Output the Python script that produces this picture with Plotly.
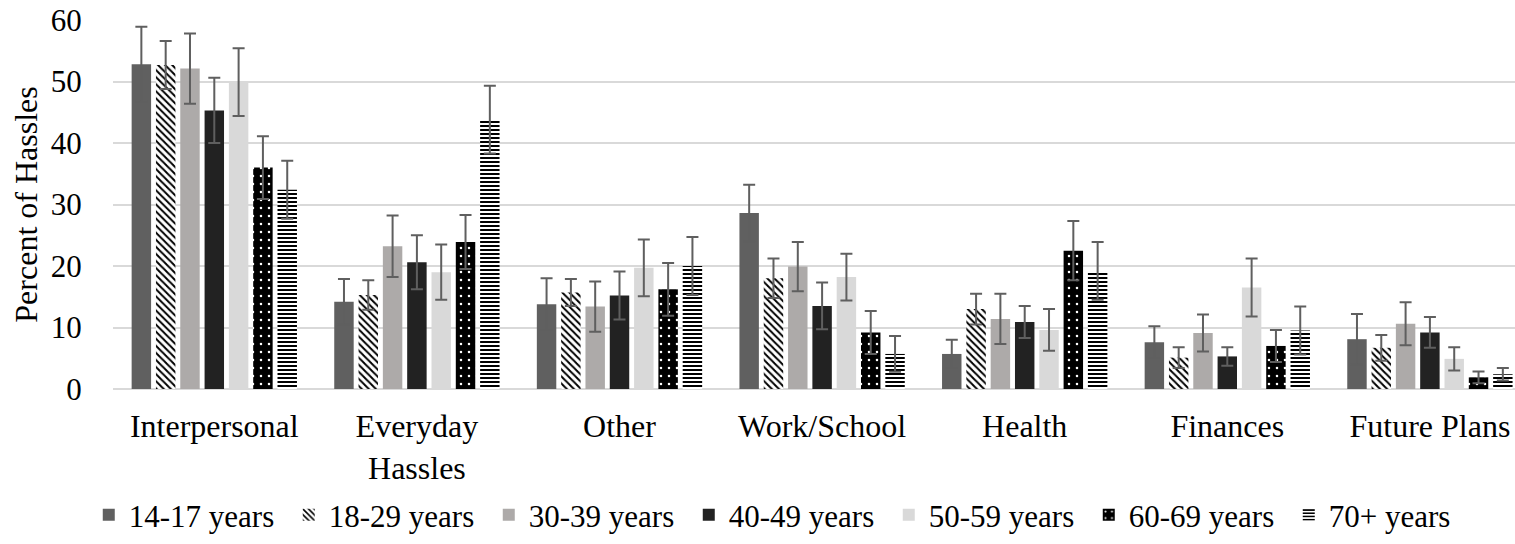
import plotly.graph_objects as go

categories = ["Interpersonal", "Everyday<br>Hassles", "Other", "Work/School", "Health", "Finances", "Future Plans"]
series_names = ["14-17 years", "18-29 years", "30-39 years", "40-49 years", "50-59 years", "60-69 years", "70+ years"]

v_14_17 = [52.8, 14.2, 13.8, 28.6, 5.7, 7.6, 8.1]
v_18_29 = [52.7, 15.3, 15.7, 18.0, 13.0, 5.1, 6.7]
v_30_39 = [52.1, 23.2, 13.4, 19.9, 11.4, 9.1, 10.6]
v_40_49 = [45.3, 20.6, 15.2, 13.5, 10.9, 5.3, 9.2]
v_50_59 = [49.9, 19.0, 19.7, 18.2, 9.6, 16.5, 4.9]
v_60_69 = [36.0, 23.9, 16.2, 9.2, 22.5, 7.0, 1.9]
v_70p = [32.4, 43.8, 20.0, 5.7, 19.2, 9.5, 2.4]

e_14_17 = [6.1, 3.7, 4.2, 4.6, 2.3, 2.6, 4.1]
e_18_29 = [3.9, 2.4, 2.2, 3.2, 2.5, 1.7, 2.1]
e_30_39 = [5.7, 5.0, 4.1, 4.0, 4.1, 3.0, 3.5]
e_40_49 = [5.3, 4.4, 3.9, 3.8, 2.6, 1.5, 2.5]
e_50_59 = [5.5, 4.5, 4.6, 3.8, 3.4, 4.7, 1.9]
e_60_69 = [5.1, 4.4, 4.3, 3.5, 4.8, 2.6, 0.95]
e_70p = [4.7, 5.5, 4.7, 2.9, 4.7, 3.9, 1.0]

values = [v_14_17, v_18_29, v_30_39, v_40_49, v_50_59, v_60_69, v_70p]
errors = [e_14_17, e_18_29, e_30_39, e_40_49, e_50_59, e_60_69, e_70p]

styles = [
    dict(color="#606060"),
    dict(color="white", pattern=dict(shape="\\", fgcolor="black", bgcolor="white", size=5, solidity=0.4, fillmode="replace")),
    dict(color="#ADAAA9"),
    dict(color="#222222"),
    dict(color="#D9D9D9"),
    dict(color="black", pattern=dict(shape=".", fgcolor="white", bgcolor="black", size=8, solidity=0.08, fillmode="replace")),
    dict(color="white", pattern=dict(shape="-", fgcolor="black", bgcolor="white", size=4, solidity=0.5, fillmode="replace")),
]

FONT = "Liberation Serif, Times New Roman, serif"

fig = go.Figure()
for name, vals, errs, st in zip(series_names, values, errors, styles):
    fig.add_trace(go.Bar(
        name=name, x=categories, y=vals,
        marker=dict(line=dict(width=0), **st),
        error_y=dict(type="data", array=errs, visible=True, color="#5f5f5f", thickness=2, width=6),
    ))

fig.update_layout(
    width=1515, height=544,
    margin=dict(l=113, r=0, t=20, b=155),
    paper_bgcolor="white", plot_bgcolor="white",
    barmode="group", bargap=0.16, bargroupgap=0.2,
    font=dict(family=FONT, size=31, color="black"),
    showlegend=True,
    legend=dict(orientation="h", x=0.482, xanchor="center", y=-0.342, yanchor="middle",
                font=dict(family=FONT, size=31, color="black"), traceorder="normal",
                itemwidth=30, entrywidth=155, entrywidthmode="pixels", bgcolor="rgba(0,0,0,0)"),
    xaxis=dict(range=[-0.5, 6.42], showgrid=False, showline=False, zeroline=False, automargin=False,
               ticks="outside", ticklen=9, tickcolor="rgba(0,0,0,0)",
               tickfont=dict(family=FONT, size=32, color="black")),
    yaxis=dict(range=[0, 60], dtick=10, showgrid=True, gridcolor="#D9D9D9", gridwidth=1.5, automargin=False,
               zeroline=True, zerolinecolor="#D9D9D9", zerolinewidth=1.5, showline=False,
               ticks="outside", ticklen=24, tickcolor="rgba(0,0,0,0)",
               tickfont=dict(family=FONT, size=31, color="black"),
               title=dict(text="Percent of Hassles", font=dict(family=FONT, size=32, color="black"), standoff=3)),
)

fig.write_html("out.html", config={"displayModeBar": False},
               post_script="document.body.style.margin='0';document.body.style.overflow='hidden';")
